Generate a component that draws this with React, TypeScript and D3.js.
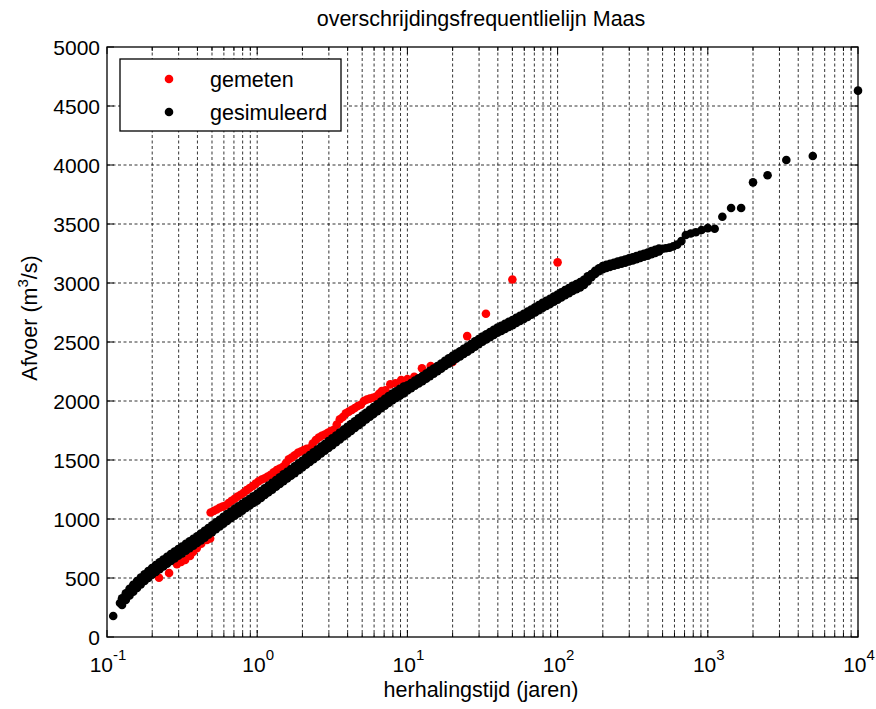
import React from 'react';
import * as d3 from 'd3';

// ---------- data ----------
// gesimuleerd (dense part of the band): return period (years) and discharge (m3/s)
const simDenseT = [
  0.1259, 0.1334, 0.1413, 0.1496, 0.1585, 0.1679, 0.1778, 0.1884, 0.1995, 0.2113, 0.2239, 0.2371,
  0.2512, 0.2661, 0.2818, 0.2985, 0.3162, 0.335, 0.3548, 0.3758, 0.3981, 0.4217, 0.4467, 0.4732,
  0.5012, 0.5309, 0.5623, 0.5957, 0.631, 0.6683, 0.7079, 0.7499, 0.7943, 0.8414, 0.8913, 0.9441,
  1, 1.059, 1.122, 1.189, 1.259, 1.334, 1.413, 1.496, 1.585, 1.679, 1.778, 1.884, 1.995, 2.113,
  2.239, 2.371, 2.512, 2.661, 2.818, 2.985, 3.162, 3.35, 3.548, 3.758, 3.981, 4.217, 4.467, 4.732,
  5.012, 5.309, 5.623, 5.957, 6.31, 6.683, 7.079, 7.499, 7.943, 8.414, 8.913, 9.441,
  10, 10.59, 11.22, 11.89, 12.59, 13.34, 14.13, 14.96, 15.85, 16.79, 17.78, 18.84, 19.95, 21.13,
  22.39, 23.71, 25.12, 26.61, 28.18, 29.85, 31.62, 33.5, 35.48, 37.58, 39.81, 42.17, 44.67, 47.32,
  50.12, 53.09, 56.23, 59.57, 63.1, 66.83, 70.79, 74.99, 79.43, 84.14, 89.13, 94.41,
  100, 105.9, 112.2, 118.9, 125.9, 133.4, 141.3, 149.6, 158.5, 167.9, 177.8, 188.4, 199.5, 211.3,
  223.9, 237.1, 251.2, 266.1, 281.8, 298.5, 316.2, 335, 354.8, 375.8, 398.1, 421.7, 446.7, 473.2,
];
const simDenseQ = [
  300, 342, 380, 413, 445, 475, 503, 530, 556, 580, 604, 627, 650, 673, 695, 717, 738, 760, 782, 803,
  825, 848, 871, 895, 918, 942, 965, 989, 1012, 1035, 1057, 1079, 1100, 1122, 1143, 1164,
  1185, 1208, 1232, 1255, 1278, 1302, 1325, 1349, 1372, 1395, 1418, 1442, 1465, 1489, 1512, 1536,
  1560, 1584, 1607, 1631, 1655, 1679, 1703, 1728, 1752, 1776, 1800, 1824, 1848, 1872, 1896, 1920,
  1943, 1967, 1990, 2012, 2035, 2054, 2074, 2093,
  2112, 2131, 2151, 2170, 2190, 2211, 2233, 2254, 2275, 2296, 2318, 2339, 2360, 2380, 2400, 2420,
  2440, 2461, 2483, 2504, 2525, 2544, 2563, 2581, 2600, 2616, 2633, 2649, 2665, 2683, 2700, 2718,
  2735, 2754, 2773, 2791, 2810, 2828, 2845, 2863,
  2880, 2899, 2918, 2936, 2955, 2970, 2985, 3005, 3035, 3062, 3090, 3112, 3130, 3141, 3150, 3159,
  3168, 3177, 3186, 3196, 3205, 3215, 3225, 3235, 3245, 3257, 3268, 3280,
];
// scatter half-width of the simulated band (m3/s), read per return-period range
const simBandUpTo = [10, 160, 1e4];
const simBandHalf = [29, 22, 13];

// gesimuleerd: isolated points (lowest and highest ranks)
const simTailT = [0.11, 0.122, 500, 526, 556, 588, 625, 667, 714, 769, 833, 909, 1000, 1111, 1250, 1429, 1667, 2000, 2500, 3333, 5000, 10000];
const simTailQ = [178, 288, 3290, 3295, 3300, 3310, 3325, 3355, 3407, 3420, 3430, 3449, 3465, 3460, 3562, 3636, 3636, 3853, 3913, 4042, 4076, 4630];

// gemeten: low points (below the simulated band)
const measLowT = [0.222, 0.259, 0.292, 0.311, 0.331, 0.357, 0.374, 0.396, 0.424, 0.462, 0.486];
const measLowQ = [502, 542, 616, 635, 653, 686, 720, 752, 790, 822, 835];
// gemeten: dense points above the simulated band
const measMidT = [
  0.4898, 0.5129, 0.537, 0.5623, 0.5888, 0.6166, 0.6457, 0.6761, 0.7079, 0.7413, 0.7762, 0.8128,
  0.8511, 0.8913, 0.9333, 0.9772, 1.023, 1.072, 1.122, 1.175, 1.23, 1.288, 1.349, 1.413, 1.479,
  1.549, 1.622, 1.698, 1.778, 1.862, 1.95, 2.042, 2.138, 2.239, 2.344, 2.455, 2.57, 2.692, 2.818,
  2.951, 3.09, 3.236, 3.388, 3.548, 3.715, 3.89, 4.074, 4.266, 4.467, 4.677, 4.898, 5.129, 5.37,
  5.623, 5.888, 6.166, 6.457, 6.761,
];
const measMidQ = [
  1055, 1068, 1080, 1095, 1105, 1115, 1135, 1155, 1172, 1190, 1205, 1222, 1245, 1262, 1280, 1300,
  1320, 1335, 1345, 1360, 1375, 1395, 1415, 1428, 1440, 1470, 1505, 1520, 1540, 1560, 1572, 1585,
  1595, 1600, 1640, 1670, 1690, 1705, 1715, 1730, 1745, 1755, 1800, 1845, 1865, 1895, 1910, 1925,
  1940, 1958, 1968, 2000, 2012, 2020, 2028, 2036, 2060, 2085,
];
// gemeten: highest ranks
const measTopT = [100, 50, 33.33, 25, 20, 16.67, 14.29, 12.5, 11.11, 10, 9.091, 8.333, 7.692, 7.143];
const measTopQ = [3175, 3030, 2740, 2550, 2330, 2300, 2297, 2277, 2206, 2185, 2178, 2150, 2141, 2090];

const yTicks = [0, 500, 1000, 1500, 2000, 2500, 3000, 3500, 4000, 4500, 5000];
const xMajor = [0.1, 1, 10, 100, 1000, 10000];
const xMajorExp = ['-1', '0', '1', '2', '3', '4'];

const title = 'overschrijdingsfrequentlielijn Maas';
const xTitle = 'herhalingstijd (jaren)';
const legendLabels = ['gemeten', 'gesimuleerd'];

// ---------- layout ----------
const W = 876;
const H = 709;
const L = 107, R = 858, T = 47, B = 637;
const FONT = "'Liberation Sans', Arial, Helvetica, sans-serif";
const RED = '#ff0000';
const R_DOT = 4.3;

export default function App() {
  const x = d3.scaleLog().domain([0.1, 10000]).range([L, R]);
  const y = d3.scaleLinear().domain([0, 5000]).range([B, T]);
  const allXTicks = x.ticks();
  const minorX = allXTicks.filter((v) => !xMajor.some((m) => Math.abs(m - v) / m < 1e-9));

  const halfFor = (t: number) => {
    for (let i = 0; i < simBandUpTo.length; i++) if (t < simBandUpTo[i]) return simBandHalf[i];
    return simBandHalf[simBandHalf.length - 1];
  };

  const redPts: [number, number][] = [];
  measLowT.forEach((t, i) => redPts.push([t, measLowQ[i]]));
  measMidT.forEach((t, i) => redPts.push([t, measMidQ[i]]));
  measTopT.forEach((t, i) => redPts.push([t, measTopQ[i]]));

  const blackPts: [number, number][] = [];
  simDenseT.forEach((t, i) => {
    const h = halfFor(t);
    blackPts.push([t, simDenseQ[i] - h]);
    blackPts.push([t, simDenseQ[i] + h]);
    blackPts.push([t, simDenseQ[i]]);
  });
  simTailT.forEach((t, i) => blackPts.push([t, simTailQ[i]]));

  const grid = { stroke: '#000', strokeWidth: 0.8, strokeDasharray: '3,2.5' };

  return (
    <svg width={W} height={H} style={{ position: 'absolute', left: 0, top: 0, background: '#fff' }} fontFamily={FONT}>
      <rect x={0} y={0} width={W} height={H} fill="#fff" />
      {/* grid */}
      {allXTicks.filter((v) => v > 0.1 && v < 10000).map((v, i) => (
        <line key={'gx' + i} x1={x(v)} x2={x(v)} y1={T} y2={B} {...grid} />
      ))}
      {yTicks.filter((v) => v > 0 && v < 5000).map((v) => (
        <line key={'gy' + v} x1={L} x2={R} y1={y(v)} y2={y(v)} {...grid} />
      ))}
      {/* data */}
      <g fill={RED}>
        {redPts.map(([t, q], i) => (
          <circle key={'r' + i} cx={x(t)} cy={y(q)} r={R_DOT} />
        ))}
      </g>
      <g fill="#000">
        {blackPts.map(([t, q], i) => (
          <circle key={'b' + i} cx={x(t)} cy={y(q)} r={R_DOT} />
        ))}
      </g>
      {/* ticks */}
      <g stroke="#000" strokeWidth={1}>
        {yTicks.map((v) => (
          <g key={'ty' + v}>
            <line x1={L} x2={L + 7} y1={y(v)} y2={y(v)} />
            <line x1={R} x2={R - 7} y1={y(v)} y2={y(v)} />
          </g>
        ))}
        {xMajor.map((v) => (
          <g key={'tx' + v}>
            <line x1={x(v)} x2={x(v)} y1={B} y2={B - 7} />
            <line x1={x(v)} x2={x(v)} y1={T} y2={T + 7} />
          </g>
        ))}
        {minorX.map((v, i) => (
          <g key={'tmx' + i}>
            <line x1={x(v)} x2={x(v)} y1={B} y2={B - 4} />
            <line x1={x(v)} x2={x(v)} y1={T} y2={T + 4} />
          </g>
        ))}
      </g>
      {/* axes box */}
      <rect x={L} y={T} width={R - L} height={B - T} fill="none" stroke="#000" strokeWidth={1.3} />
      {/* y tick labels */}
      <g fontSize={21} fill="#000" textAnchor="end">
        {yTicks.map((v) => (
          <text key={'ly' + v} x={100} y={y(v) + 7.5}>{v}</text>
        ))}
      </g>
      {/* x tick labels */}
      <g fontSize={21} fill="#000" textAnchor="middle">
        {xMajor.map((v, i) => (
          <text key={'lx' + v} x={x(v) + 1} y={672}>
            <tspan>10</tspan>
            <tspan dy={-12} fontSize={15}>{xMajorExp[i]}</tspan>
          </text>
        ))}
      </g>
      {/* titles */}
      <text x={481} y={26} fontSize={21.5} textAnchor="middle" fill="#000">{title}</text>
      <text x={481} y={697} fontSize={21.5} textAnchor="middle" fill="#000">{xTitle}</text>
      <text transform="translate(37,318) rotate(-90)" fontSize={21.5} textAnchor="middle" fill="#000">
        Afvoer (m<tspan dy={-9} fontSize={15}>3</tspan>
        <tspan dy={9}>/s)</tspan>
      </text>
      {/* legend */}
      <rect x={120} y={59} width={221} height={72} fill="#fff" stroke="#000" strokeWidth={1.3} />
      <circle cx={169} cy={79} r={R_DOT} fill={RED} />
      <circle cx={169} cy={112} r={R_DOT} fill="#000" />
      <text x={210} y={87} fontSize={21.5} fill="#000">{legendLabels[0]}</text>
      <text x={210} y={119.5} fontSize={21.5} fill="#000">{legendLabels[1]}</text>
    </svg>
  );
}
